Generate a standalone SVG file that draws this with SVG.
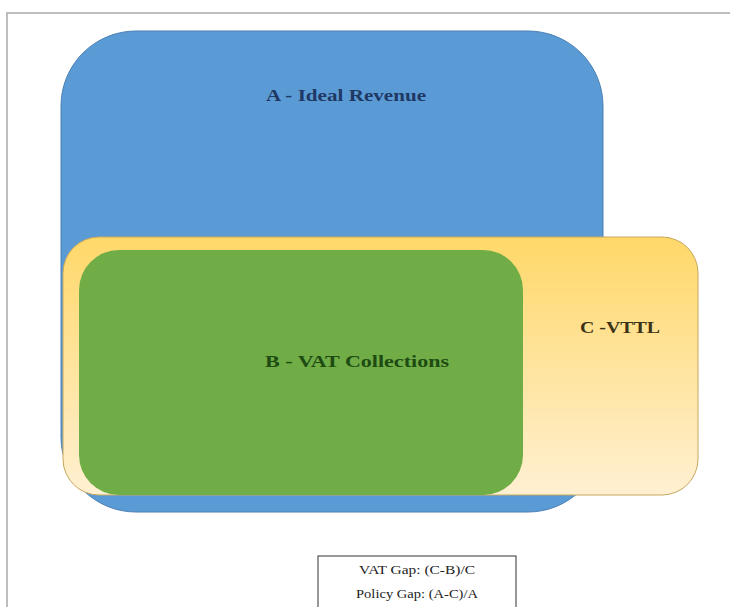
<svg xmlns="http://www.w3.org/2000/svg" width="730" height="607" viewBox="0 0 730 607">
  <defs>
    <linearGradient id="yel" x1="0" y1="0" x2="0" y2="1">
      <stop offset="0" stop-color="#FFD869"/>
      <stop offset="1" stop-color="#FFF0D2"/>
    </linearGradient>
    <style>
      .lbl { font-family: "Liberation Serif", "Times New Roman", serif; font-weight: bold; font-size: 16px; text-anchor: middle; }
      .leg { font-family: "Liberation Serif", "Times New Roman", serif; font-size: 11.5px; text-anchor: middle; fill: #222; }
    </style>
  </defs>
  <rect x="0" y="0" width="730" height="607" fill="#ffffff"/>
  <rect x="7" y="13" width="740" height="620" fill="none" stroke="#bdbdbd" stroke-width="2"/>
  <g id="nodeA">
    <rect x="61" y="31" width="542" height="481" rx="75" ry="75" fill="#5B9BD5" stroke="#4a7fb5" stroke-width="1"/>
    <text class="lbl" x="346" y="101" fill="#1F3864" textLength="160" lengthAdjust="spacingAndGlyphs">A - Ideal Revenue</text>
  </g>
  <g id="nodeC">
    <rect x="63" y="237" width="635" height="258" rx="36" ry="36" fill="url(#yel)" stroke="#C6A85E" stroke-width="1"/>
    <text class="lbl" x="620" y="333" fill="#3B3318" textLength="80" lengthAdjust="spacingAndGlyphs">C -VTTL</text>
  </g>
  <g id="nodeB">
    <rect x="79" y="250" width="444" height="245" rx="40" ry="40" fill="#70AD47"/>
    <text class="lbl" x="357" y="367" fill="#1E4B12" textLength="184" lengthAdjust="spacingAndGlyphs">B - VAT Collections</text>
  </g>
  <g id="legend">
    <rect x="318" y="556" width="198" height="60" fill="#ffffff" stroke="#333" stroke-width="1"/>
    <text class="leg" x="417" y="574" textLength="116" lengthAdjust="spacingAndGlyphs">VAT Gap: (C-B)/C</text>
    <text class="leg" x="417" y="598" textLength="122" lengthAdjust="spacingAndGlyphs">Policy Gap: (A-C)/A</text>
  </g>
  <g id="connectors"/>
</svg>
